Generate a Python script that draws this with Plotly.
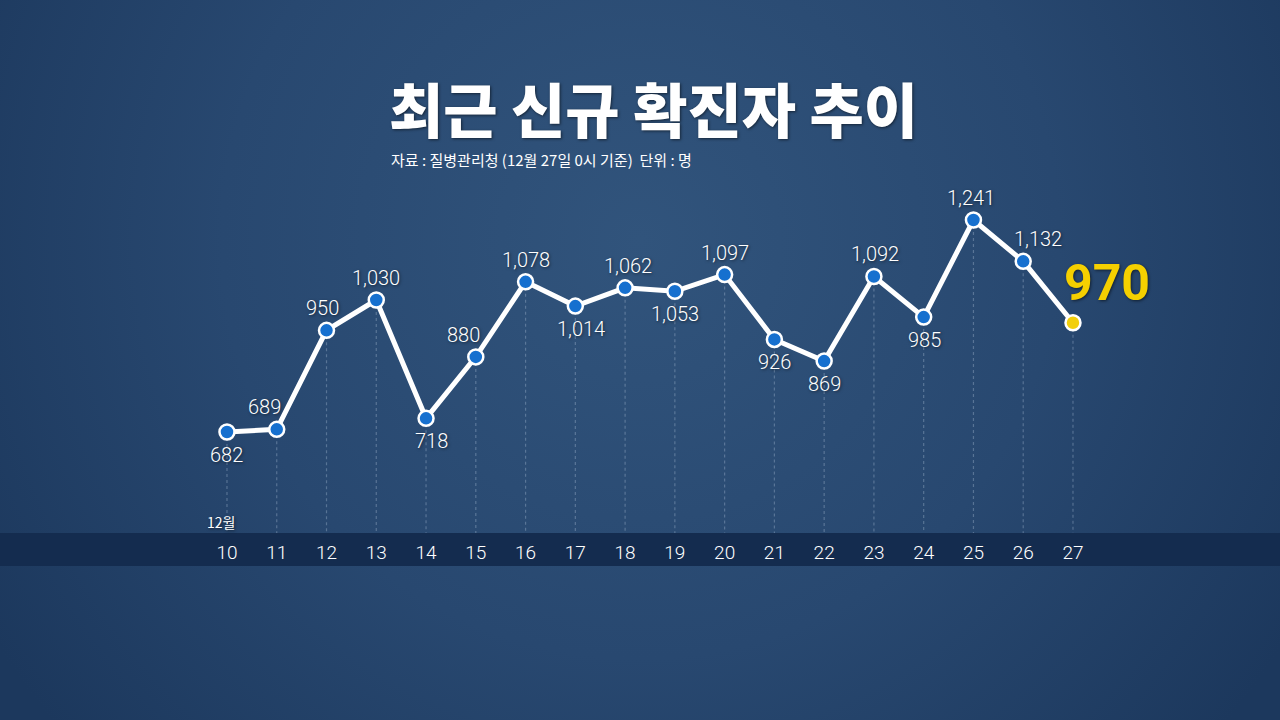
import base64
import plotly.graph_objects as go

days = [10, 11, 12, 13, 14, 15, 16, 17, 18, 19, 20, 21, 22, 23, 24, 25, 26, 27]
cases = [682, 689, 950, 1030, 718, 880, 1078, 1014, 1062, 1053, 1097, 926, 869, 1092, 985, 1241, 1132, 970]
label_side = ["below", "above", "above", "above", "below", "above", "above", "below", "above",
              "below", "above", "below", "below", "above", "below", "above", "above", "right"]
label_dx = [0, -12, -4, 0, 5, -12, 0, 6, 3, 0, 0, 0, 0, 1, 1, -2, 15, 0]

title = "최근 신규 확진자 추이"
subtitle = "자료 : 질병관리청 (12월 27일 0시 기준)  단위 : 명"
month_label = "12월"

W, H = 1280, 720
X0, X1 = 5.439, 31.160
Y0, Y1 = -77.5, 1821.1
band_top_val = 415.7

svg = f'''<svg xmlns="http://www.w3.org/2000/svg" width="{W}" height="{H}" viewBox="0 0 {W} {H}">
<defs><radialGradient id="g" cx="640" cy="240" r="760" gradientUnits="userSpaceOnUse">
<stop offset="0" stop-color="#31547c"/><stop offset="0.55" stop-color="#284870"/><stop offset="1" stop-color="#1c385d"/>
</radialGradient></defs><rect width="{W}" height="{H}" fill="url(#g)"/></svg>'''
bg_src = "data:image/svg+xml;base64," + base64.b64encode(svg.encode()).decode()

fig = go.Figure()

# dotted guide lines
gx, gy = [], []
for d, v in zip(days, cases):
    gx += [d, d, None]
    gy += [v, band_top_val, None]
fig.add_trace(go.Scatter(x=gx, y=gy, mode="lines",
                         line=dict(color="rgba(200,215,235,0.3)", width=1.2, dash="dot"),
                         hoverinfo="skip", showlegend=False))

marker_colors = ["#1670cf"] * (len(days) - 1) + ["#f2cf0b"]
fig.add_trace(go.Scatter(x=days, y=cases, mode="lines+markers",
                         line=dict(color="white", width=5),
                         marker=dict(size=15, color=marker_colors, line=dict(color="white", width=2.5)),
                         showlegend=False))

shadow = "1px 1px 3px rgba(0,0,0,0.55)"
for d, v, side, dx in zip(days, cases, label_side, label_dx):
    txt = f"{v:,}"
    if side == "right":
        fig.add_annotation(x=d, y=v, text=txt, showarrow=False, xshift=34, yshift=40,
                           font=dict(family="Roboto", size=50, color="#f5d000", weight="bold", shadow=shadow))
    else:
        fig.add_annotation(x=d, y=v, text=txt, showarrow=False, xshift=dx,
                           yshift=22 if side == "above" else -23,
                           font=dict(family="Roboto", size=20, color="white", weight=300, shadow=shadow))

# bottom band
fig.add_shape(type="rect", xref="paper", yref="paper", x0=0, x1=1,
              y0=1 - 566 / H, y1=1 - 533 / H, fillcolor="#142c4f", line_width=0, layer="below")

fig.add_annotation(xref="paper", yref="paper", x=205 / W, y=1 - 522 / H, yanchor="middle", text=month_label,
                   showarrow=False, font=dict(family="Noto Sans CJK KR", size=14, color="white", shadow=shadow))
fig.add_annotation(xref="paper", yref="paper", x=653 / W, y=1 - 107 / H, yanchor="middle", text=title,
                   showarrow=False,
                   font=dict(family="Noto Sans CJK KR", size=59, color="white", weight=900, shadow=shadow))
fig.add_annotation(xref="paper", yref="paper", x=389 / W, y=1 - 159 / H, xanchor="left", yanchor="middle",
                   text=subtitle, showarrow=False,
                   font=dict(family="Noto Sans CJK KR", size=15, color="white"))

fig.update_layout(
    width=W, height=H, margin=dict(l=0, r=0, t=0, b=0),
    paper_bgcolor="#1f3b60", plot_bgcolor="rgba(0,0,0,0)",
    images=[dict(source=bg_src, xref="paper", yref="paper", x=0, y=1, sizex=1, sizey=1,
                 xanchor="left", yanchor="top", sizing="stretch", layer="below")],
    xaxis=dict(range=[X0, X1], tickvals=days, ticktext=[str(d) for d in days], showgrid=False,
               zeroline=False, showline=False, ticks="", anchor="free", position=1 - 539 / H,
               tickfont=dict(family="Roboto", size=19, color="white", weight=300), automargin=False),
    yaxis=dict(range=[Y0, Y1], visible=False, showgrid=False, zeroline=False),
    showlegend=False,
)

fig.write_html("out.html", config={"displayModeBar": False},
               post_script="document.body.style.margin='0';document.body.style.overflow='hidden';")
